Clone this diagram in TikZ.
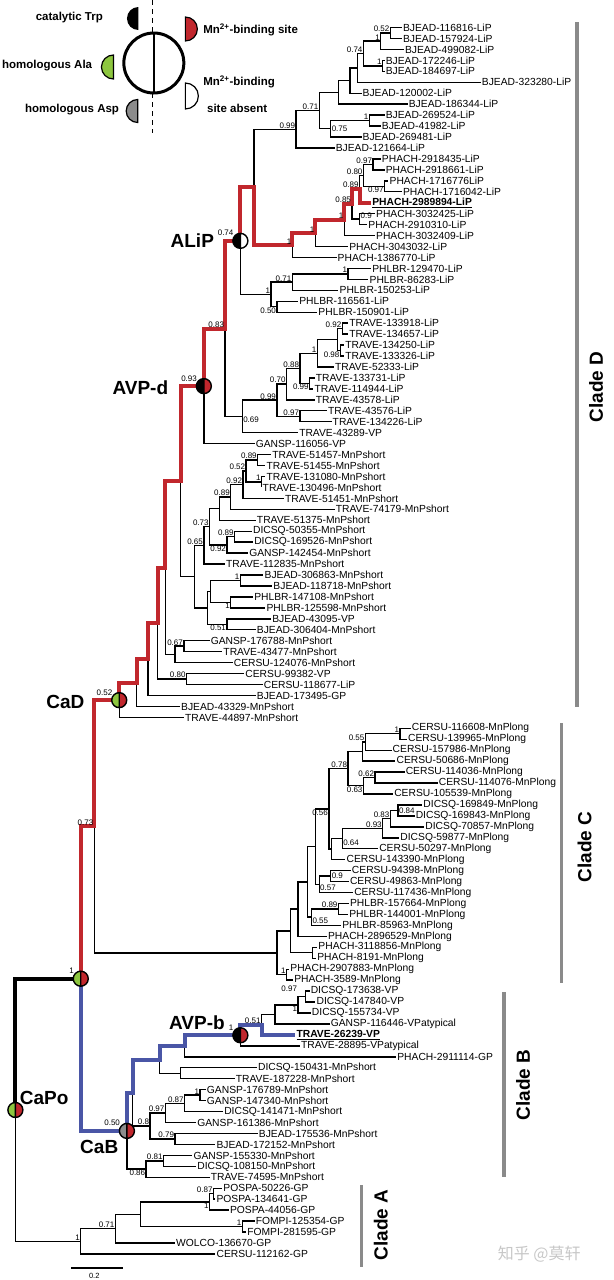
\documentclass[tikz,border=0pt]{standalone}
\usepackage{fontspec}
\setmainfont{Liberation Sans}
\newfontfamily\cjkfont{Noto Sans CJK SC}
\usetikzlibrary{calc}

\definecolor{redp}{HTML}{C1272D}
\definecolor{bluep}{HTML}{4A56A6}
\definecolor{greenp}{HTML}{8DC63F}
\definecolor{greyp}{HTML}{8C8C8C}
\definecolor{barg}{HTML}{8A8A8A}

% inner node of the tree: name, x, upper child, lower child
\newcommand\inode[4]{%
  \path ($(#3)!.5!(#4)$) coordinate (m#1);
  \coordinate (#1) at (#2,0 |- m#1);
  \draw[br] (#1) |- (#3) (#1) |- (#4);}

% ancestral site circle: position, left colour, right colour
\newcommand\sitedot[3]{%
  \fill[#2] (#1) ++(0pt,7.5pt) arc[start angle=90,end angle=270,radius=7.5pt] -- cycle;
  \fill[#3] (#1) ++(0pt,-7.5pt) arc[start angle=-90,end angle=90,radius=7.5pt] -- cycle;
  \draw[line width=1.4pt] (#1) circle[radius=7.5pt]
    ($(#1)+(0pt,7.5pt)$) -- ($(#1)+(0pt,-7.5pt)$);}

\tikzset{
  br/.style={line width=1.4pt},
  redpath/.style={draw=redp,line width=4pt,line join=miter},
  bluepath/.style={draw=bluep,line width=4pt,line join=miter},
  rootpath/.style={draw=black,line width=4pt,line join=miter},
  leaf/.style={anchor=west,inner sep=1pt,font=\fontsize{10.3}{12}\selectfont},
  bs/.style={anchor=south east,inner sep=0.8pt,font=\fontsize{8}{8}\selectfont},
  big/.style={font=\bfseries\fontsize{19}{22}\selectfont},
  legend/.style={font=\bfseries\fontsize{11.5}{13}\selectfont,inner sep=0pt},
  clade/.style={font=\bfseries\fontsize{19}{22}\selectfont,rotate=90},
  cbar/.style={draw=barg,line width=3.5pt}
}

\begin{document}
\begin{tikzpicture}[x=0.3846pt,y=-1pt]
\useasboundingbox (0,0) rectangle (1596.4,1280);

% legend
\draw[line width=1.5pt,dash pattern=on 5pt off 4pt] (397,0) -- (397,33) (397,93) -- (397,133);
\draw[line width=3pt] (400,63) circle[radius=30pt];
\draw[line width=2.5pt] (400,33) -- (400,93);
\fill (360,18.5) ++(0pt,11.5pt) arc[start angle=90,end angle=270,radius=11.5pt] -- cycle;
\filldraw[fill=greenp,line width=1.2pt] (295,67) ++(0pt,12pt) arc[start angle=90,end angle=270,radius=12pt] -- cycle;
\filldraw[fill=greyp,line width=1.2pt] (358,111) ++(0pt,11.5pt) arc[start angle=90,end angle=270,radius=11.5pt] -- cycle;
\filldraw[fill=redp,line width=1.2pt] (482,29) ++(0pt,-12pt) arc[start angle=-90,end angle=90,radius=12pt] -- cycle;
\filldraw[fill=white,line width=1.2pt] (482,96) ++(0pt,-13pt) arc[start angle=-90,end angle=90,radius=13pt] -- cycle;
\node[legend,anchor=east] (lgTrp) at (268,18) {catalytic Trp};
\node[legend,anchor=east] (lgAla) at (240,66) {homologous Ala};
\node[legend,anchor=east] (lgAsp) at (310,110) {homologous Asp};
\node[legend,anchor=west] (lgMn) at (528,30) {Mn\textsuperscript{2+}-binding site};
\node[legend,anchor=west] (lgMnA) at (528,82) {Mn\textsuperscript{2+}-binding};
\node[legend,anchor=west] (lgAbs) at (538,108) {site absent};

% leaves
\foreach \x/\t [count=\i] in {
 1045/BJEAD-116816-LiP, 1045/BJEAD-157924-LiP, 1050/BJEAD-499082-LiP,
 1000/BJEAD-172246-LiP, 1000/BJEAD-184697-LiP, 1250/BJEAD-323280-LiP,
 940/BJEAD-120002-LiP, 1060/BJEAD-186344-LiP, 1000/BJEAD-269524-LiP,
 990/BJEAD-41982-LiP, 940/BJEAD-269481-LiP, 870/BJEAD-121664-LiP,
 990/PHACH-2918435-LiP, 1000/PHACH-2918661-LiP, 1010/PHACH-1716776LiP,
 1045/PHACH-1716042-LiP, 965/{\underline{\textbf{PHACH-2989894-LiP}}},
 975/PHACH-3032425-LiP, 955/PHACH-2910310-LiP, 975/PHACH-3032409-LiP,
 905/PHACH-3043032-LiP, 875/PHACH-1386770-LiP,
 965/PHLBR-129470-LiP, 958/PHLBR-86283-LiP, 880/PHLBR-150253-LiP,
 775/PHLBR-116561-LiP, 825/PHLBR-150901-LiP,
 905/TRAVE-133918-LiP, 905/TRAVE-134657-LiP, 895/TRAVE-134250-LiP,
 895/TRAVE-133326-LiP, 868/TRAVE-52333-LiP, 818/TRAVE-133731-LiP,
 815/TRAVE-114944-LiP, 818/TRAVE-43578-LiP, 850/TRAVE-43576-LiP,
 862/TRAVE-134226-LiP, 775/TRAVE-43289-VP, 662/GANSP-116056-VP,
 705/TRAVE-51457-MnPshort, 690/TRAVE-51455-MnPshort, 690/TRAVE-131080-MnPshort,
 680/TRAVE-130496-MnPshort, 738/TRAVE-51451-MnPshort, 870/TRAVE-74179-MnPshort,
 665/TRAVE-51375-MnPshort, 655/DICSQ-50355-MnPshort, 658/DICSQ-169526-MnPshort,
 645/GANSP-142454-MnPshort, 585/TRAVE-112835-MnPshort, 685/BJEAD-306863-MnPshort,
 708/BJEAD-118718-MnPshort, 658/PHLBR-147108-MnPshort, 690/PHLBR-125598-MnPshort,
 705/BJEAD-43095-VP, 665/BJEAD-306404-MnPshort, 545/GANSP-176788-MnPshort,
 578/TRAVE-43477-MnPshort, 605/CERSU-124076-MnPshort, 635/CERSU-99382-VP,
 683/CERSU-118677-LiP, 665/BJEAD-173495-GP, 468/BJEAD-43329-MnPshort,
 478/TRAVE-44897-MnPshort,
 1068/CERSU-116608-MnPlong, 1058/CERSU-139965-MnPlong, 1018/CERSU-157986-MnPlong,
 1028/CERSU-50686-MnPlong, 1052/CERSU-114036-MnPlong, 1138/CERSU-114076-MnPlong,
 1022/CERSU-105539-MnPlong, 1098/DICSQ-169849-MnPlong, 1078/DICSQ-169843-MnPlong,
 1103/DICSQ-70857-MnPlong, 1038/DICSQ-59877-MnPlong, 983/CERSU-50297-MnPlong,
 898/CERSU-143390-MnPlong, 912/CERSU-94398-MnPlong, 907/CERSU-49863-MnPlong,
 918/CERSU-117436-MnPlong, 907/PHLBR-157664-MnPlong, 905/PHLBR-144001-MnPlong,
 887/PHLBR-85963-MnPlong, 850/PHACH-2896529-MnPlong, 825/PHACH-3118856-MnPlong,
 822/PHACH-8191-MnPlong, 752/PHACH-2907883-MnPlong, 762/PHACH-3589-MnPlong,
 805/DICSQ-173638-VP, 820/DICSQ-147840-VP, 808/DICSQ-155734-VP,
 857/GANSP-116446-VPatypical, 768/{\underline{\textbf{TRAVE-26239-VP}}},
 780/TRAVE-28895-VPatypical, 1030/PHACH-2911114-GP,
 668/DICSQ-150431-MnPshort, 610/TRAVE-187228-MnPshort, 535/GANSP-176789-MnPshort,
 535/GANSP-147340-MnPshort, 580/DICSQ-141471-MnPshort, 510/GANSP-161386-MnPshort,
 670/BJEAD-175536-MnPshort, 560/BJEAD-172152-MnPshort, 500/GANSP-155330-MnPshort,
 510/DICSQ-108150-MnPshort, 545/TRAVE-74595-MnPshort,
 578/POSPA-50226-GP, 560/POSPA-134641-GP, 595/POSPA-44056-GP,
 662/FOMPI-125354-GP, 640/FOMPI-281595-GP, 455/WOLCO-136670-GP,
 560/CERSU-112162-GP}
 \node[leaf] (l\i) at (\x,{27.5+10.95*(\i-1)}) {\t};

% clade D: LiP part
\inode{n1}{1015}{l1}{l2}
\inode{n2}{990}{n1}{l3}
\inode{n3}{995}{l4}{l5}
\inode{n4}{945}{n2}{n3}
\inode{n5}{930}{n4}{l6}
\inode{n6}{910}{n5}{l7}
\inode{n7}{880}{n6}{l8}
\inode{n8}{960}{l9}{l10}
\inode{n9}{860}{n8}{l11}
\inode{n10}{830}{n7}{n9}
\inode{n11}{770}{n10}{l12}
\inode{p1}{970}{l13}{l14}
\inode{p2}{1000}{l15}{l16}
\inode{p3}{945}{p1}{p2}
\inode{p4}{935}{p3}{l17}
\inode{q1}{935}{l18}{l19}
\inode{p5}{915}{p4}{q1}
\inode{p6}{895}{p5}{l20}
\inode{p7}{820}{p6}{l21}
\inode{p8}{760}{p7}{l22}
\inode{al}{660}{n11}{p8}
\inode{h1}{905}{l23}{l24}
\inode{h2}{760}{h1}{l25}
\inode{h3}{720}{l26}{l27}
\inode{h4}{705}{h2}{h3}
\inode{alip}{625}{al}{h4}
\inode{t1}{890}{l28}{l29}
\inode{t2}{885}{l30}{l31}
\inode{t3}{878}{t1}{t2}
\inode{t4}{825}{t3}{l32}
\inode{t5}{805}{l33}{l34}
\inode{t6}{780}{t4}{t5}
\inode{t7}{745}{t6}{l35}
\inode{t8}{780}{l36}{l37}
\inode{t9}{720}{t7}{t8}
\inode{t10}{630}{t9}{l38}
\inode{n083}{585}{alip}{t10}
\inode{avpd}{530}{n083}{l39}
% clade D: MnP short part
\inode{m1}{670}{l40}{l41}
\inode{m2}{680}{l42}{l43}
\inode{m3}{640}{m1}{m2}
\inode{m4}{632}{m3}{l44}
\inode{m5}{600}{m4}{l45}
\inode{m6}{570}{m5}{l46}
\inode{m7}{610}{l47}{l48}
\inode{m8}{590}{m7}{l49}
\inode{m10}{545}{m6}{m8}
\inode{m9}{530}{m10}{l50}
\inode{b1}{625}{l51}{l52}
\inode{b2}{600}{l53}{l54}
\inode{b3}{548}{b1}{b2}
\inode{b4}{590}{l55}{l56}
\inode{b5}{540}{b3}{b4}
\inode{m11}{505}{m9}{b5}
\inode{u1}{470}{avpd}{m11}
\inode{c1}{478}{l57}{l58}
\inode{c2}{455}{c1}{l59}
\inode{c3}{485}{l60}{l61}
\inode{u2}{430}{u1}{c2}
\inode{u3}{410}{u2}{c3}
\inode{u4}{385}{u3}{l62}
\inode{u5}{355}{u4}{l63}
\inode{cad}{310}{u5}{l64}
% clade C
\inode{k1}{1040}{l65}{l66}
\inode{k2}{950}{k1}{l67}
\inode{k3}{942}{k2}{l68}
\inode{k4}{975}{l69}{l70}
\inode{k5}{945}{k4}{l71}
\inode{k6}{905}{k3}{k5}
\inode{d1}{1035}{l72}{l73}
\inode{d2}{1015}{d1}{l74}
\inode{d3}{995}{d2}{l75}
\inode{d4}{890}{d3}{l76}
\inode{d5}{862}{d4}{l77}
\inode{k7}{855}{k6}{d5}
\inode{g1}{860}{l78}{l79}
\inode{g2}{830}{g1}{l80}
\inode{k8}{820}{k7}{g2}
\inode{f1}{880}{l81}{l82}
\inode{f2}{810}{f1}{l83}
\inode{k9}{800}{k8}{f2}
\inode{k10}{775}{k9}{l84}
\inode{ph}{812}{l85}{l86}
\inode{k11}{755}{k10}{ph}
\inode{pp}{745}{l87}{l88}
\inode{rc}{720}{k11}{pp}
\inode{n073}{245}{cad}{rc}
% clade B
\inode{v1}{795}{l89}{l90}
\inode{v2}{775}{v1}{l91}
\inode{v3}{715}{v2}{l92}
\inode{v4}{680}{v3}{l93}
\inode{avpb}{625}{v4}{l94}
\inode{w1}{480}{avpb}{l95}
\inode{w2}{470}{l96}{l97}
\inode{w3}{415}{w1}{w2}
\inode{e1}{520}{l98}{l99}
\inode{e2}{480}{e1}{l100}
\inode{e3}{430}{e2}{l101}
\inode{e4}{455}{l102}{l103}
\inode{e5}{390}{e3}{e4}
\inode{w4}{345}{w3}{e5}
\inode{s1}{425}{l104}{l105}
\inode{s2}{380}{s1}{l106}
\inode{cab}{330}{w4}{s2}
\inode{cadc}{210}{n073}{cab}
% clade A and root
\inode{a1}{555}{l107}{l108}
\inode{a2}{545}{a1}{l109}
\inode{a3}{630}{l110}{l111}
\inode{a4}{365}{a2}{a3}
\inode{a5}{300}{a4}{l112}
\inode{a6}{210}{a5}{l113}
\inode{capo}{40}{cadc}{a6}

% coloured lineages
\draw[redpath] (cadc) |- (n073) |- (cad) |- (u5) |- (u4) |- (u3) |- (u2) |- (u1)
  |- (avpd) |- (n083) |- (alip) |- (al) |- (p8) |- (p7) |- (p6) |- (p5) |- (p4) |- (l17);
\draw[bluepath] (cadc) |- (cab) |- (w4) |- (w3) |- (w1) |- (avpb) |- (v4) |- (l93);
\draw[rootpath] (capo) |- (cadc);

% support values
\foreach \n/\v in {n1/0.52, n2/1, n3/1, n4/0.74, n8/1, n10/0.71, n11/0.99,
  p1/0.97, p3/0.80, p4/0.89, p5/0.85, p6/1, p7/1, p8/1,
  h1/1, h2/0.71, h4/1, t1/0.92, t4/1, t6/0.88, t7/0.70, t8/0.97, t9/0.99,
  n083/0.83, m1/0.89, m2/1, m3/0.52, m4/0.92, m5/0.89, m10/0.73,
  m7/0.89, m9/0.65, b1/1, c1/0.67, c3/0.80, k1/1, k2/0.55, k6/0.78,
  k4/0.62, d2/0.83, d3/0.93, f1/0.89, pp/1, n073/0.73, v4/0.51,
  e1/1, e2/0.87, e3/0.97, e4/0.79, e5/0.8, s1/0.81,
  a1/0.87, a3/1, a5/0.71, a6/1}
  \node[bs] (bs\n) at (\n) {\v};
\foreach \n/\v in {alip/0.74, avpd/0.93, cad/0.52, cadc/1, avpb/1, cab/0.50}
  \node[bs,xshift=-6pt,yshift=4pt] (bs\n) at (\n) {\v};
\foreach \n/\v in {h3/0.50, t2/0.98, t5/0.99, m8/0.92, b2/1, b4/0.51, k5/0.63,
  k7/0.56, v2/1, s2/0.86, a2/1, p2/0.97}
  \node[bs,anchor=north east] (bs\n) at (\n) {\v};
\foreach \n/\v in {n9/0.75, d1/0.84, g1/0.9}
  \node[bs,anchor=west] (bs\n) at (\n) {\v};
\node[bs,anchor=south west] (bsq1) at (q1) {0.9};
\foreach \n/\v in {d4/0.64, g2/0.57, f2/0.55, t10/0.69}
  \node[bs,anchor=north west] (bt\n) at (\n) {\v};
\node[bs,anchor=north] (btpp) at (752,985) {0.97};

% ancestral nodes
\sitedot{alip}{black}{white}
\sitedot{avpd}{black}{redp}
\sitedot{cad}{greenp}{redp}
\sitedot{cadc}{greenp}{redp}
\sitedot{avpb}{black}{redp}
\sitedot{cab}{greyp}{redp}
\sitedot{capo}{greenp}{redp}
\node[big] (tALiP) at (500,241) {ALiP};
\node[big] (tAVPd) at (365,388) {AVP-d};
\node[big] (tCaD) at (170,702) {CaD};
\node[big] (tAVPb) at (512,1023) {AVP-b};
\node[big] (tCaPo) at (115,1098) {CaPo};
\node[big] (tCaB) at (258,1147) {CaB};

% clades
\draw[cbar] (1500,22) -- (1500,707);
\draw[cbar] (1460,723) -- (1460,983);
\draw[cbar] (1310,992) -- (1310,1177);
\draw[cbar] (940,1185) -- (940,1267);
\node[clade] (cD) at (1550,387) {Clade D};
\node[clade] (cC) at (1520,847) {Clade C};
\node[clade] (cB) at (1360,1085) {Clade B};
\node[clade] (cA) at (990,1225) {Clade A};

% scale bar and mark
\draw[line width=1.6pt] (185,1268) -- (320,1268);
\node[font=\fontsize{7.5}{8}\selectfont] (sc) at (245,1276) {0.2};
\node[text=black!22,font=\cjkfont\fontsize{16}{16}\selectfont] (wm) at (1402,1254) {知乎 @莫轩};
\end{tikzpicture}
\end{document}
